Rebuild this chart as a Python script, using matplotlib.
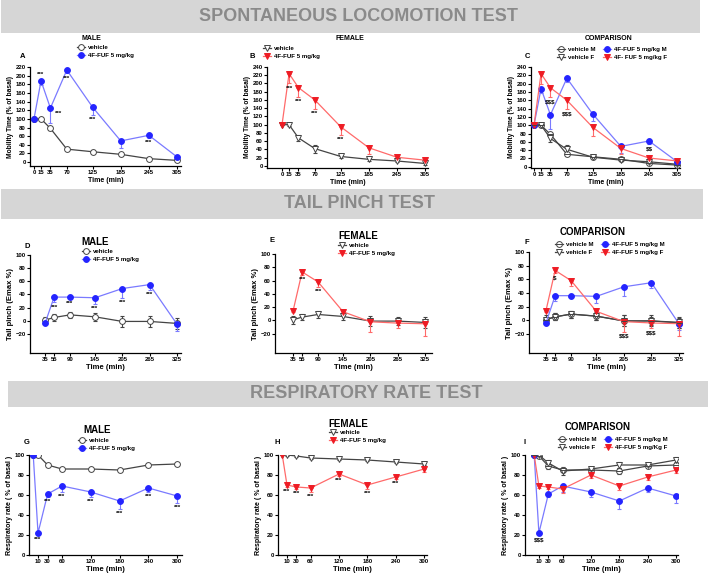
import matplotlib
matplotlib.use("Agg")
import matplotlib.pyplot as plt
from matplotlib.patches import Rectangle
from matplotlib.lines import Line2D

plt.rcParams['font.family'] = ['Liberation Sans', 'DejaVu Sans']
plt.rcParams['font.weight'] = 'bold'

# ---- data: spontaneous locomotion ----
t_loc = [0, 15, 35, 70, 125, 185, 245, 305]
loc_veh_m = [100, 100, 78, 30, 24, 18, 8, 4]
loc_veh_m_err = [0, 2, 4, 3, 3, 3, 3, 2]
loc_drug_m = [100, 188, 125, 213, 127, 49, 62, 12]
loc_drug_m_err = [0, 10, 35, 8, 18, 17, 7, 3]
loc_veh_f = [100, 100, 68, 42, 23, 16, 12, 6]
loc_veh_f_err = [0, 4, 8, 10, 3, 3, 3, 3]
loc_drug_f = [100, 224, 190, 160, 95, 44, 21, 14]
loc_drug_f_err = [0, 24, 22, 22, 20, 14, 3, 2]

# ---- data: tail pinch ----
t_tail = [35, 55, 90, 145, 205, 265, 325]
tail_veh_m = [1, 5, 9, 6, -1, -1, -4]
tail_veh_m_err = [4, 5, 5, 6, 8, 8, 8]
tail_drug_m = [-4, 36, 36, 35, 49, 55, -5]
tail_drug_m_err = [1, 8, 2, 10, 14, 8, 10]
tail_veh_f = [1, 5, 9, 6, -1, -1, -3]
tail_veh_f_err = [6, 5, 5, 5, 8, 6, 8]
tail_drug_f = [14, 73, 58, 13, -2, -4, -5]
tail_drug_f_err = [2, 4, 8, 4, 15, 8, 18]

# ---- data: respiratory rate ----
t_resp = [0, 10, 30, 60, 120, 180, 240, 300]
resp_veh_m = [100, 100, 90, 86, 86, 85, 90, 91]
resp_veh_m_err = [0, 1, 1, 1, 1, 1, 1, 1]
resp_drug_m = [100, 22, 61, 69, 63, 54, 67, 59]
resp_drug_m_err = [0, 2, 3, 6, 5, 8, 4, 7]
resp_veh_f = [100, 100, 99, 97, 96, 95, 93, 91]
resp_veh_f_err = [0, 1, 1, 1, 1, 1, 1, 1]
resp_drug_f = [100, 70, 68, 67, 81, 70, 78, 86]
resp_drug_f_err = [0, 2, 2, 4, 2, 4, 2, 3]
cmp_veh_m = [100, 99, 89, 85, 85, 84, 89, 90]
cmp_veh_m_err = [0, 2, 3, 2, 2, 3, 2, 3]
cmp_veh_f = [100, 100, 92, 84, 86, 90, 90, 95]
cmp_veh_f_err = [0, 2, 3, 4, 2, 3, 2, 3]
cmp_drug_f = [100, 69, 68, 66, 80, 69, 78, 85]
cmp_drug_f_err = [0, 2, 2, 4, 3, 4, 3, 3]

banners = ["SPONTANEOUS LOCOMOTION TEST", "TAIL PINCH TEST", "RESPIRATORY RATE TEST"]

BLUE, BLUE_L = '#2424ff', '#7a7aff'
RED, RED_L = '#ee1c24', '#ff6a6a'
GREY = '#444444'

W, H = 708, 575
fig = plt.figure(figsize=(W / 100, H / 100), dpi=100)


def fx(x):
    return x / W


def fy(y):
    return 1 - y / H


def make_ax(left, top, right, bottom):
    ax = fig.add_axes([fx(left), fy(bottom), (right - left) / W, (bottom - top) / H])
    for s in ['top', 'right']:
        ax.spines[s].set_visible(False)
    for s in ['left', 'bottom']:
        ax.spines[s].set_linewidth(0.9)
    ax.tick_params(length=2, width=0.8, labelsize=4.3, pad=1)
    return ax


def series(ax, t, y, err, kind, label):
    if kind == 'veh_m':
        mk, fc, ec, lc = 'o', 'white', GREY, GREY
    elif kind == 'veh_f':
        mk, fc, ec, lc = 'v', 'white', GREY, GREY
    elif kind == 'drug_m':
        mk, fc, ec, lc = 'o', BLUE, BLUE, BLUE_L
    else:
        mk, fc, ec, lc = 'v', RED, RED, RED_L
    lower = err
    upper = err if kind.startswith('veh') else [0] * len(err)
    ax.errorbar(t, y, yerr=[lower, upper], color=lc, lw=0.9, elinewidth=0.8,
                capsize=1.6, capthick=0.8, zorder=2, fmt='none')
    h, = ax.plot(t, y, color=lc, lw=0.9, marker=mk, ms=4.2, mfc=fc, mec=ec,
                 mew=0.7, label=label, zorder=3)
    return h


def stars(ax, t, y, err, idx, text, side=None):
    for k, i in enumerate(idx):
        s = side[k] if side else 'below'
        if s == 'below':
            ax.annotate(text, (t[i], y[i] - err[i]), xytext=(0, -1.5),
                        textcoords='offset points', ha='center', va='top',
                        fontsize=4.5, fontweight='bold')
        elif s == 'above':
            ax.annotate(text, (t[i], y[i]), xytext=(0, 2.5),
                        textcoords='offset points', ha='center', va='bottom',
                        fontsize=4.5, fontweight='bold')
        else:
            ax.annotate(text, (t[i], y[i]), xytext=(3, -4),
                        textcoords='offset points', ha='left', va='center',
                        fontsize=4.5, fontweight='bold')


def legend(ax, handles, labels, x, y, ncol=1):
    ax.legend(handles, labels, loc='upper left', bbox_to_anchor=(fx(x), fy(y)),
              bbox_transform=fig.transFigure, frameon=False,
              ncol=ncol, handlelength=1.3, handletextpad=0.5, labelspacing=0.35,
              columnspacing=1.2, borderpad=0, borderaxespad=0,
              prop={'weight': 'bold', 'size': 4.4})


def veh_m_cmp(ax, t, y, err):
    h = series(ax, t, y, err, 'veh_m', 'vehicle M')
    ax.plot(t, y, ls='none', marker='_', ms=4.2, mec=GREY, mew=0.7, zorder=4)
    return (h, Line2D([], [], ls='none', marker='_', ms=4.2, mec=GREY, mew=0.7))


def label_text(x, y, s, size=6.5):
    fig.text(fx(x), fy(y), s, ha='center', va='center', fontsize=size, fontweight='bold')


# ---- banners ----
for (x0, y0, x1, y1), title in zip([(1, 0, 700, 33), (1, 189, 703, 219), (8, 381, 708, 407)], banners):
    fig.add_artist(Rectangle((fx(x0), fy(y1)), (x1 - x0) / W, (y1 - y0) / H,
                             transform=fig.transFigure, fc='#d6d6d6', ec='none'))
    fig.text(fx((x0 + x1) / 2 + 8), fy((y0 + y1) / 2), title, ha='center', va='center',
             fontsize=13, fontweight='bold', color='#8a8a8a')

# ================= Row 1: locomotion =================
loc_ylabel = 'Mobility Time (% of basal)'
# A
ax = make_ax(30, 67, 181, 166)
h1 = series(ax, t_loc, loc_veh_m, loc_veh_m_err, 'veh_m', 'vehicle')
h2 = series(ax, t_loc, loc_drug_m, loc_drug_m_err, 'drug_m', '4F-FUF 5 mg/kg')
stars(ax, t_loc, loc_drug_m, loc_drug_m_err, [1, 2, 3, 4, 6], '***',
      ['above', 'right', 'below', 'below', 'below'])
ax.set_xlim(-8.5, 313.5)
ax.set_ylim(-9, 220)
ax.set_yticks(range(0, 221, 20))
ax.set_xticks(t_loc)
ax.set_ylabel(loc_ylabel, fontsize=4.8, fontweight='bold', labelpad=1)
ax.set_xlabel('Time (min)', fontsize=5, fontweight='bold', labelpad=1.5)
legend(ax, [h1, h2], ['vehicle', '4F-FUF 5 mg/kg'], 77, 45)
label_text(91, 38, 'MALE', 5)
label_text(23, 56, 'A', 5.5)

# B
ax = make_ax(267, 67, 428, 168)
h1 = series(ax, t_loc, loc_veh_f, loc_veh_f_err, 'veh_f', 'vehicle')
h2 = series(ax, t_loc, loc_drug_f, loc_drug_f_err, 'drug_f', '4F-FUF 5 mg/kg')
stars(ax, t_loc, loc_drug_f, loc_drug_f_err, [1, 2, 3, 4], '***')
ax.set_xlim(-32, 311)
ax.set_ylim(-5, 240)
ax.set_yticks(range(0, 241, 20))
ax.set_xticks(t_loc)
ax.set_ylabel(loc_ylabel, fontsize=4.8, fontweight='bold', labelpad=1)
ax.set_xlabel('Time (min)', fontsize=5, fontweight='bold', labelpad=1.5)
legend(ax, [h1, h2], ['vehicle', '4F-FUF 5 mg/kg'], 263, 46)
label_text(350, 38, 'FEMALE', 5)
label_text(252, 56, 'B', 5.5)

# C
ax = make_ax(531, 67, 680, 168)
hvm = veh_m_cmp(ax, t_loc, loc_veh_m, loc_veh_m_err)
hvf = series(ax, t_loc, loc_veh_f, loc_veh_f_err, 'veh_f', 'vehicle F')
hdm = series(ax, t_loc, loc_drug_m, loc_drug_m_err, 'drug_m', '4F-FUF 5 mg/kg M')
hdf = series(ax, t_loc, loc_drug_f, loc_drug_f_err, 'drug_f', '4F- FUF 5 mg/kg F')
stars(ax, t_loc, loc_drug_f, loc_drug_f_err, [2, 3], r'\$\$\$')
stars(ax, t_loc, loc_drug_m, loc_drug_m_err, [6], r'\$\$')
ax.set_xlim(-6.4, 311)
ax.set_ylim(-3, 240)
ax.set_yticks(range(0, 241, 20))
ax.set_xticks(t_loc)
ax.set_ylabel(loc_ylabel, fontsize=4.8, fontweight='bold', labelpad=1)
ax.set_xlabel('Time (min)', fontsize=5, fontweight='bold', labelpad=1.5)
legend(ax, [hvm, hvf, hdm, hdf], ['vehicle M', 'vehicle F', '4F-FUF 5 mg/kg M', '4F- FUF 5 mg/kg F'],
       557, 47, ncol=2)
label_text(609, 38, 'COMPARISON', 5)
label_text(527, 56, 'C', 5.5)

# ================= Row 2: tail pinch =================
tail_ylabel = 'Tail pinch (Emax %)'
# D
ax = make_ax(30, 255, 181, 353)
h1 = series(ax, t_tail, tail_veh_m, tail_veh_m_err, 'veh_m', 'vehicle')
h2 = series(ax, t_tail, tail_drug_m, tail_drug_m_err, 'drug_m', '4F-FUF 5 mg/kg')
stars(ax, t_tail, tail_drug_m, tail_drug_m_err, [1, 2, 3, 4, 5], '***')
ax.set_xlim(2, 334)
ax.set_ylim(-49, 100)
ax.set_yticks(range(-20, 101, 20))
ax.set_xticks(t_tail)
ax.set_ylabel(tail_ylabel, fontsize=5.5, fontweight='bold', labelpad=1)
ax.set_xlabel('Time (min)', fontsize=5.5, fontweight='bold', labelpad=1.5)
legend(ax, [h1, h2], ['vehicle', '4F-FUF 5 mg/kg'], 82, 249)
label_text(95, 242, 'MALE', 7)
label_text(27, 246, 'D', 5.5)

# E
ax = make_ax(275, 254, 432, 353)
h1 = series(ax, t_tail, tail_veh_f, tail_veh_f_err, 'veh_f', 'vehicle')
h2 = series(ax, t_tail, tail_drug_f, tail_drug_f_err, 'drug_f', '4F-FUF 5 mg/kg')
stars(ax, t_tail, tail_drug_f, tail_drug_f_err, [1, 2], '***')
ax.set_xlim(-4.5, 340)
ax.set_ylim(-49, 100)
ax.set_yticks(range(-20, 101, 20))
ax.set_xticks(t_tail)
ax.set_ylabel(tail_ylabel, fontsize=5.5, fontweight='bold', labelpad=1)
ax.set_xlabel('Time (min)', fontsize=5.5, fontweight='bold', labelpad=1.5)
legend(ax, [h1, h2], ['vehicle', '4F-FUF 5 mg/kg'], 338, 243)
label_text(358, 236, 'FEMALE', 7)
label_text(272, 240, 'E', 5.5)

# F
ax = make_ax(529, 252, 683, 353)
hvm = veh_m_cmp(ax, t_tail, tail_veh_m, tail_veh_m_err)
hvf = series(ax, t_tail, tail_veh_f, tail_veh_f_err, 'veh_f', 'vehicle F')
hdm = series(ax, t_tail, tail_drug_m, tail_drug_m_err, 'drug_m', '4F-FUF 5 mg/kg M')
hdf = series(ax, t_tail, tail_drug_f, tail_drug_f_err, 'drug_f', '4F-FUF 5 mg/kg F')
stars(ax, t_tail, tail_drug_f, tail_drug_f_err, [1], r'\$')
stars(ax, t_tail, tail_drug_f, tail_drug_f_err, [4, 5], r'\$\$\$')
ax.set_xlim(-2, 334)
ax.set_ylim(-48, 100)
ax.set_yticks(range(-20, 101, 20))
ax.set_xticks(t_tail)
ax.set_ylabel(tail_ylabel, fontsize=5.5, fontweight='bold', labelpad=1)
ax.set_xlabel('Time (min)', fontsize=5.5, fontweight='bold', labelpad=1.5)
legend(ax, [hvm, hvf, hdm, hdf], ['vehicle M', 'vehicle F', '4F-FUF 5 mg/kg M', '4F-FUF 5 mg/kg F'],
       555, 242, ncol=2)
label_text(593, 232, 'COMPARISON', 7)
label_text(527, 243, 'F', 5.5)

# ================= Row 3: respiratory =================
resp_ylabel = 'Respiratory rate ( % of basal )'
resp_ticks = [10, 30, 60, 120, 180, 240, 300]
# G
ax = make_ax(29, 455, 182, 555)
h1 = series(ax, t_resp, resp_veh_m, resp_veh_m_err, 'veh_m', 'vehicle')
h2 = series(ax, t_resp, resp_drug_m, resp_drug_m_err, 'drug_m', '4F-FUF 5 mg/kg')
stars(ax, t_resp, resp_drug_m, resp_drug_m_err, [1, 2, 3, 4, 5, 6, 7], '***')
ax.set_xlim(-8.8, 310)
ax.set_ylim(0, 100)
ax.set_yticks(range(0, 101, 20))
ax.set_xticks(resp_ticks)
ax.set_ylabel(resp_ylabel, fontsize=5, fontweight='bold', labelpad=1)
ax.set_xlabel('Time (min)', fontsize=5.5, fontweight='bold', labelpad=1.5)
legend(ax, [h1, h2], ['vehicle', '4F-FUF 5 mg/kg'], 78, 438)
label_text(97, 430, 'MALE', 7)
label_text(27, 443, 'G', 5.5)

# H
ax = make_ax(278, 455, 427, 555)
h1 = series(ax, t_resp, resp_veh_f, resp_veh_f_err, 'veh_f', 'vehicle')
h2 = series(ax, t_resp, resp_drug_f, resp_drug_f_err, 'drug_f', '4F-FUF 5 mg/kg')
stars(ax, t_resp, resp_drug_f, resp_drug_f_err, [1, 2, 3, 4, 5, 6], '***')
ax.set_xlim(-9, 306)
ax.set_ylim(0, 100)
ax.set_yticks(range(0, 101, 20))
ax.set_xticks(resp_ticks)
ax.set_ylabel(resp_ylabel, fontsize=5, fontweight='bold', labelpad=1)
ax.set_xlabel('Time (min)', fontsize=5.5, fontweight='bold', labelpad=1.5)
legend(ax, [h1, h2], ['vehicle', '4F-FUF 5 mg/kg'], 329, 430)
label_text(348, 424, 'FEMALE', 7)
label_text(277, 443, 'H', 5.5)

# I
ax = make_ax(525, 455, 678, 555)
hvm = veh_m_cmp(ax, t_resp, cmp_veh_m, cmp_veh_m_err)
hvf = series(ax, t_resp, cmp_veh_f, cmp_veh_f_err, 'veh_f', 'vehicle F')
hdm = series(ax, t_resp, resp_drug_m, resp_drug_m_err, 'drug_m', '4F-FUF 5 mg/kg M')
hdf = series(ax, t_resp, cmp_drug_f, cmp_drug_f_err, 'drug_f', '4F-FUF 5 mg/Kg F')
stars(ax, t_resp, resp_drug_m, resp_drug_m_err, [1], r'\$\$\$')
ax.set_xlim(-19.4, 304)
ax.set_ylim(0, 100)
ax.set_yticks(range(0, 101, 20))
ax.set_xticks(resp_ticks)
ax.set_ylabel(resp_ylabel, fontsize=5, fontweight='bold', labelpad=1)
ax.set_xlabel('Time (min)', fontsize=5.5, fontweight='bold', labelpad=1.5)
legend(ax, [hvm, hvf, hdm, hdf], ['vehicle M', 'vehicle F', '4F-FUF 5 mg/kg M', '4F-FUF 5 mg/Kg F'],
       558, 437, ncol=2)
label_text(598, 427, 'COMPARISON', 7)
label_text(525, 443, 'I', 5.5)

fig.savefig('out.png', dpi=100)
